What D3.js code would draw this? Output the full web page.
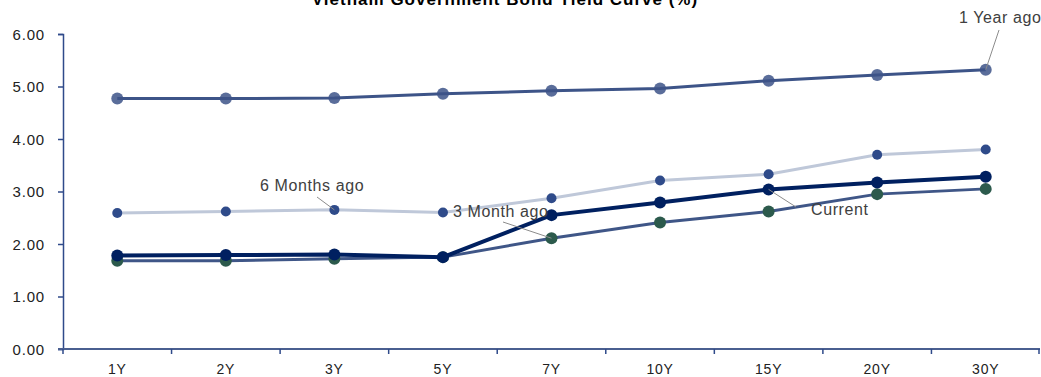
<html><head>
<script src="https://d3js.org/d3.v7.min.js"></script>
<style>
  body { margin: 0; background: #fff; }
  text { font-family: "Liberation Sans", Arial, sans-serif; }
</style>
</head><body>
<div id="chart"></div>
<script>
// tenors on the x axis
const tenors = ["1Y", "2Y", "3Y", "5Y", "7Y", "10Y", "15Y", "20Y", "30Y"];
const yTicks = [0, 1, 2, 3, 4, 5, 6];

// yields in %
const yearAgo   = [4.77, 4.77, 4.78, 4.86, 4.92, 4.96, 5.11, 5.22, 5.32];
const sixMonths = [2.59, 2.62, 2.65, 2.60, 2.87, 3.21, 3.33, 3.70, 3.80];
const threeMonth = [1.68, 1.68, 1.72, 1.75, 2.11, 2.41, 2.62, 2.95, 3.05];
const current   = [1.78, 1.79, 1.80, 1.75, 2.55, 2.79, 3.04, 3.17, 3.28];

const width = 1041, height = 377;
const margin = {top: 34, right: 1, bottom: 28, left: 63};

let svg = d3.select("#chart").append("svg")
    .attr("width", width)
    .attr("height", height);

let xScale = d3.scaleBand()
    .domain(tenors)
    .range([margin.left, width - margin.right]);

let yScale = d3.scaleLinear()
    .domain([0, 6])
    .range([height - margin.bottom, margin.top]);

// title, sitting at the very top edge like the original
svg.append("text")
    .attr("x", 505)
    .attr("y", 5)
    .attr("text-anchor", "middle")
    .style("font-size", "17px")
    .style("font-weight", "bold")
    .style("letter-spacing", "1px")
    .text("Vietnam Government Bond Yield Curve (%)");

// y axis
let leftAxis = d3.axisLeft(yScale)
    .tickValues(yTicks)
    .tickFormat(d3.format(".2f"))
    .tickSize(5);
let yAxis = svg.append("g")
    .attr("transform", "translate(" + margin.left + ",0)")
    .call(leftAxis);
yAxis.select(".domain").attr("stroke", "#2f4a8a").attr("stroke-width", 1.5);
yAxis.selectAll(".tick line").attr("stroke", "#2f4a8a").attr("stroke-width", 1.5);
yAxis.selectAll(".tick text")
    .attr("x", -18)
    .attr("dy", "0.36em")
    .style("font-size", "15px")
    .style("letter-spacing", "0.8px")
    .style("font-family", "'Liberation Sans', Arial, sans-serif")
    .attr("fill", "#222");

// x axis: ticks on band edges, labels in the middle
let xAxis = svg.append("g")
    .attr("transform", "translate(0," + yScale(0) + ")");
xAxis.append("line")
    .attr("x1", margin.left - 5)
    .attr("x2", width - margin.right)
    .attr("stroke", "#4a5f90")
    .attr("stroke-width", 2);
const edges = tenors.map(t => xScale(t)).concat([xScale.range()[1] - 1]);
xAxis.selectAll("line.edge")
    .data(edges)
    .join("line")
    .attr("class", "edge")
    .attr("x1", d => d).attr("x2", d => d)
    .attr("y1", 0).attr("y2", 5)
    .attr("stroke", "#2f4a8a")
    .attr("stroke-width", 1.5);
xAxis.selectAll("text")
    .data(tenors)
    .join("text")
    .attr("x", t => xScale(t) + xScale.bandwidth() / 2)
    .attr("y", 25)
    .attr("text-anchor", "middle")
    .style("font-size", "14px")
    .style("letter-spacing", "0.8px")
    .attr("fill", "#222")
    .text(t => t);

// series
const series = [
  {name: "6 Months ago", values: sixMonths, line: "#bfc8d9", lw: 3, dot: "#2f4b8a", r: 5, op: 1},
  {name: "1 Year ago", values: yearAgo, line: "#3d5488", lw: 3, dot: "#3d5488", r: 6, op: 0.85},
  {name: "3 Month ago", values: threeMonth, line: "#3f5687", lw: 3, dot: "#2c5a4c", r: 6, op: 1},
  {name: "Current", values: current, line: "#002060", lw: 4, dot: "#002060", r: 6, op: 1}
];

const cx = i => xScale(tenors[i]) + xScale.bandwidth() / 2;

let lineGen = d3.line()
    .x((d, i) => cx(i))
    .y(d => yScale(d));

series.forEach(s => {
  let g = svg.append("g");
  g.append("path")
    .datum(s.values)
    .attr("fill", "none")
    .attr("stroke", s.line)
    .attr("stroke-width", s.lw)
    .attr("d", lineGen);
  g.selectAll("circle")
    .data(s.values)
    .join("circle")
    .attr("cx", (d, i) => cx(i))
    .attr("cy", d => yScale(d))
    .attr("r", s.r)
    .attr("fill", s.dot)
    .attr("fill-opacity", s.op);
});

// labels with leader lines
const labels = [
  {text: "1 Year ago", idx: 8, vals: yearAgo, tx: 959, ty: 23, lx: 999, ly: 30},
  {text: "6 Months ago", idx: 2, vals: sixMonths, tx: 260, ty: 191, lx: 317, ly: 197},
  {text: "3 Month ago", idx: 4, vals: threeMonth, tx: 453, ty: 217, lx: 503, ly: 222},
  {text: "Current", idx: 6, vals: current, tx: 811, ty: 215, lx: 796, ly: 207}
];

labels.forEach(l => {
  svg.append("line")
    .attr("x1", l.lx).attr("y1", l.ly)
    .attr("x2", cx(l.idx)).attr("y2", yScale(l.vals[l.idx]))
    .attr("stroke", "#8c8c8c")
    .attr("stroke-width", 1);
  svg.append("text")
    .attr("x", l.tx)
    .attr("y", l.ty)
    .style("font-size", "16px")
    .style("letter-spacing", "0.6px")
    .attr("fill", "#404040")
    .text(l.text);
});
</script>
</body></html>
